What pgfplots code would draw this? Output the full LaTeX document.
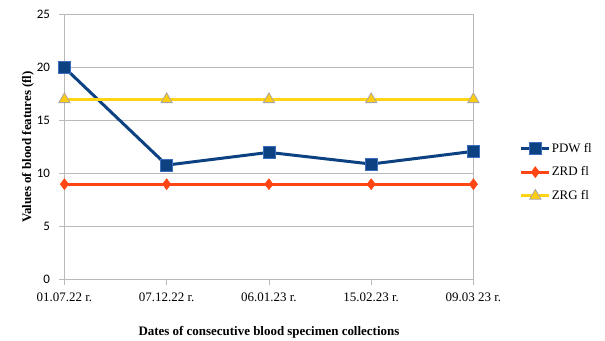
\documentclass[border=0pt]{standalone}
\usepackage{fontspec}
\setmainfont{Liberation Serif}
\newfontfamily\tickfont{Carlito}
\usepackage{pgfplots}
\pgfplotsset{compat=1.18}
\definecolor{pdw}{RGB}{13,66,130}
\definecolor{pdwedge}{RGB}{60,110,190}
\definecolor{zrd}{RGB}{255,70,20}
\definecolor{zrg}{RGB}{255,212,20}
\definecolor{gridc}{RGB}{185,185,185}
\begin{document}
\begin{tikzpicture}[x=1bp,y=1bp]
\useasboundingbox (0,0) rectangle (605,340);
\begin{axis}[
  at={(63,57)}, anchor=south west,
  scale only axis, width=409bp, height=265bp,
  xmin=0, xmax=4, ymin=0, ymax=25,
  xtick={0,1,2,3,4},
  xticklabels={01.07.22 r., 07.12.22 r., 06.01.23 r., 15.02.23 r., 09.03 23 r.},
  ytick={0,5,10,15,20,25},
  ymajorgrids, major grid style={gridc, line width=0.8pt},
  axis line style={gridc, line width=0.8pt},
  tick style={gridc, line width=0.8pt},
  tick align=outside, major tick length=5bp,
  xtick pos=bottom, ytick pos=left,
  yticklabel style={font=\tickfont\fontsize{13}{15}\selectfont, xshift=-6bp},
  xticklabel style={font=\fontsize{13}{15}\selectfont, yshift=-5bp},
  /pgf/number format/assume math mode=true,
  xlabel={\textbf{Dates of consecutive blood specimen collections}},
  xlabel style={font=\fontsize{13}{15}\selectfont, yshift=-18bp},
  ylabel={\textbf{Values of blood features (fl)}},
  ylabel style={font=\fontsize{13}{15}\selectfont, yshift=-4bp},
  legend style={at={(1.113,0.405)}, anchor=west, draw=none, fill=none,
    font=\fontsize{13}{15}\selectfont, row sep=11bp, inner sep=0pt,
    nodes={inner sep=1bp}},
  legend cell align=left,
  legend image code/.code={%
    \draw[mark repeat=2,mark phase=2] plot coordinates {(0bp,0bp) (14bp,0bp) (28bp,0bp)};},
  clip=false,
]
\addplot[pdw, line width=3pt, mark=square*, mark size=6bp,
  mark options={fill=pdw, draw=pdwedge, line width=0.8pt}]
  coordinates {(0,20) (1,10.8) (2,12.0) (3,10.9) (4,12.1)};
\addlegendentry{PDW fl}
\addplot[zrd, line width=3pt, mark=diamond*, mark size=5.5bp,
  mark options={fill=zrd, draw=zrd, line width=0.5pt}]
  coordinates {(0,9) (1,9) (2,9) (3,9) (4,9)};
\addlegendentry{ZRD fl}
\addplot[zrg, line width=3pt, mark=triangle*, mark size=6.5bp,
  mark options={fill=zrg!90!orange, draw=gray!70, line width=0.8pt}]
  coordinates {(0,17) (1,17) (2,17) (3,17) (4,17)};
\addlegendentry{ZRG fl}
\draw[gridc, line width=0.8pt] (rel axis cs:1,0) -- (rel axis cs:1,1);
\end{axis}
\end{tikzpicture}
\end{document}
